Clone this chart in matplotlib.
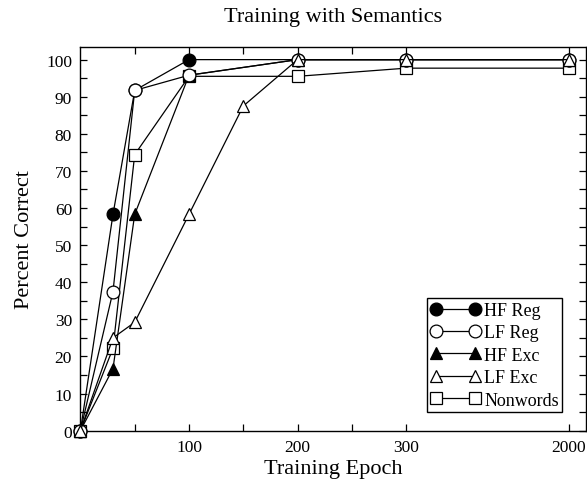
import numpy as np
import matplotlib
matplotlib.use("Agg")
import matplotlib.pyplot as plt

plt.rcParams['font.family'] = ['Liberation Serif', 'DejaVu Serif']

# ---- data ----
hf_reg_epochs = [0, 30, 50, 100, 200, 300, 2000]
hf_reg_vals = [0, 58.3, 91.7, 100, 100, 100, 100]

lf_reg_epochs = [0, 30, 50, 100, 200, 300, 2000]
lf_reg_vals = [0, 37.5, 91.7, 95.8, 100, 100, 100]

hf_exc_epochs = [0, 30, 50, 100, 200, 300, 2000]
hf_exc_vals = [0, 16.7, 58.3, 95.8, 100, 100, 100]

lf_exc_epochs = [0, 30, 50, 100, 150, 200, 300, 2000]
lf_exc_vals = [0, 25.0, 29.2, 58.3, 87.5, 100, 100, 100]

nonword_epochs = [0, 30, 50, 100, 200, 300, 2000]
nonword_vals = [0, 22.2, 74.4, 95.5, 95.5, 97.7, 97.7]

x_major_ticks = [100, 200, 300, 2000]
x_minor_ticks = [50, 150, 250]
y_ticks = list(range(0, 101, 10))

title = "Training with Semantics"
xlabel = "Training Epoch"
ylabel = "Percent Correct"


# piecewise axis: linear to 300, then compressed
def fwd(x):
    x = np.asarray(x, dtype=float)
    return np.where(x <= 300, x, 300 + (x - 300) * 150.0 / 1700.0)


def inv(y):
    y = np.asarray(y, dtype=float)
    return np.where(y <= 300, y, 300 + (y - 300) * 1700.0 / 150.0)


fig = plt.figure(figsize=(5.87, 4.85), dpi=100)
ax = fig.add_axes([0.137, 0.110, 0.862, 0.791])
ax.set_xscale('function', functions=(fwd, inv))

lw = 0.9
ms_c = 9.2
ms_t = 9.2
ms_s = 8.3
mew = 0.9

series = [
    ("HF Reg", hf_reg_epochs, hf_reg_vals, 'o', 'black', ms_c, 2),
    ("LF Reg", lf_reg_epochs, lf_reg_vals, 'o', 'white', ms_c, 4),
    ("HF Exc", hf_exc_epochs, hf_exc_vals, '^', 'black', ms_t, 3),
    ("LF Exc", lf_exc_epochs, lf_exc_vals, '^', 'white', ms_t, 5),
    ("Nonwords", nonword_epochs, nonword_vals, 's', 'white', ms_s, 1),
]
handles = []
for label, xs, ys, mk, fc, ms, z in series:
    h, = ax.plot(xs, ys, color='black', lw=lw, marker=mk, markersize=ms,
                 markerfacecolor=fc, markeredgecolor='black',
                 markeredgewidth=mew, label=label, zorder=z, clip_on=False)
    handles.append(h)

ax.set_xlim(0, float(inv(466)))
ax.set_ylim(0, 103.4)

ax.set_xticks(x_major_ticks)
ax.set_xticklabels([str(t) for t in x_major_ticks])
ax.set_xticks(x_minor_ticks, minor=True)
ax.set_yticks(y_ticks)
ax.set_yticks(list(range(5, 101, 10)), minor=True)

ax.tick_params(which='both', direction='in', top=True, right=True,
               length=5, width=0.9, labelsize=12.5, pad=6)
for s in ax.spines.values():
    s.set_linewidth(1.0)

ax.set_title(title, fontsize=16, pad=19)
ax.set_xlabel(xlabel, fontsize=16, labelpad=3)
ax.set_ylabel(ylabel, fontsize=16, labelpad=9)

leg = ax.legend(handles=handles, loc='lower right',
                bbox_to_anchor=(0.9525, 0.048), borderaxespad=0,
                numpoints=2, handlelength=2.75, handletextpad=0.2,
                labelspacing=0.3, borderpad=0.2, fontsize=13,
                fancybox=False, framealpha=1, edgecolor='black')
leg.get_frame().set_linewidth(1.0)

fig.savefig("out.png", dpi=100)
